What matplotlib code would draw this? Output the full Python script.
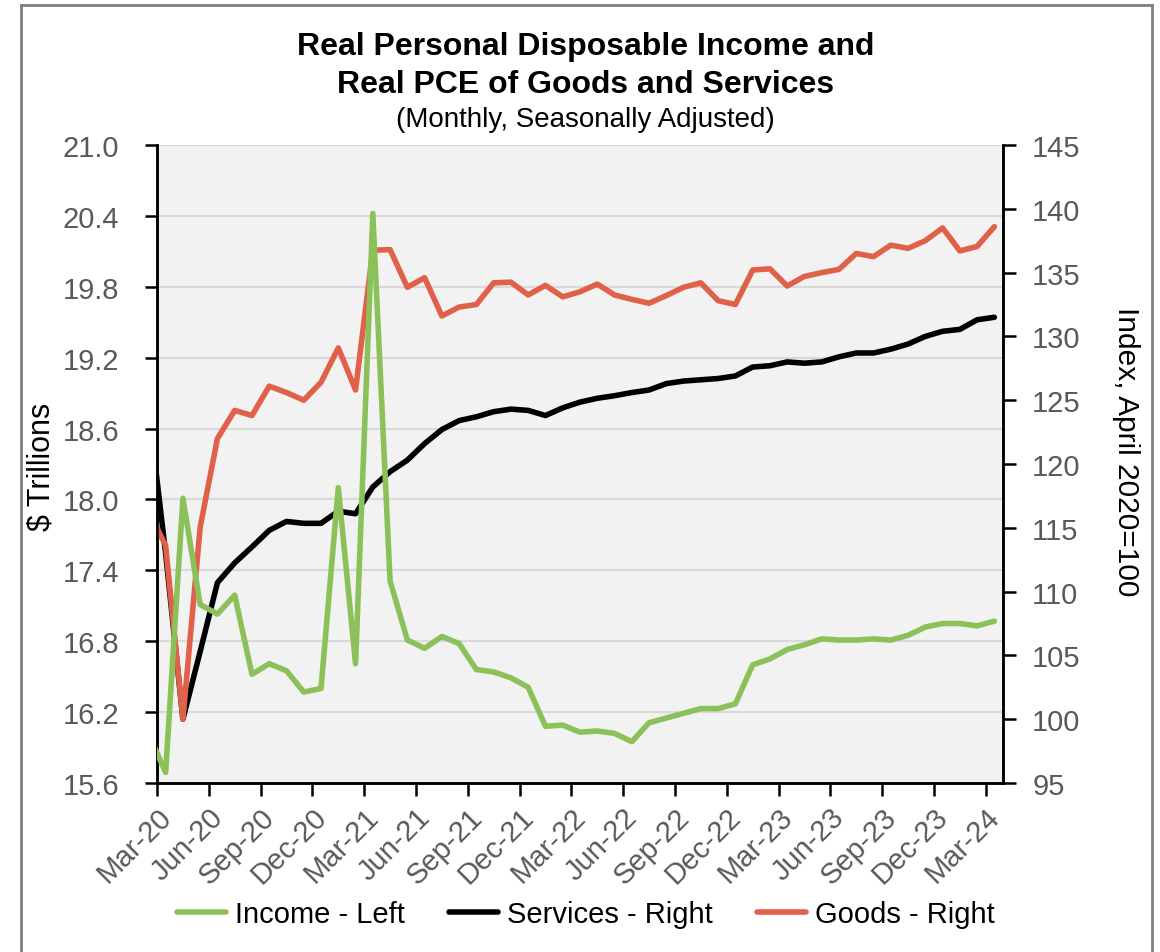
import matplotlib
matplotlib.use("Agg")
import matplotlib.pyplot as plt
import matplotlib.transforms as mtrans
import numpy as np
import pandas as pd

plt.rcParams['font.family'] = ['Liberation Sans', 'DejaVu Sans']

# monthly, Feb-20 .. Mar-24
months = pd.date_range('2020-02-01', '2024-03-01', freq='MS')

# real disposable income, $ trillions (left axis)
income = [16.02, 15.69, 18.01, 17.11, 17.03, 17.19, 16.52, 16.61, 16.55, 16.37, 16.40,
          18.10, 16.61, 20.42, 17.31, 16.81, 16.74, 16.84, 16.78, 16.56, 16.54, 16.49, 16.41,
          16.08, 16.09, 16.03, 16.04, 16.02, 15.95, 16.11, 16.15, 16.19, 16.23, 16.23, 16.27,
          16.60, 16.65, 16.73, 16.77, 16.82, 16.81, 16.81, 16.82, 16.81, 16.85, 16.92, 16.95,
          16.95, 16.93, 16.97]

# real PCE services, index Apr-20 = 100 (right axis)
services = [124.5, 113.0, 100.0, 105.3, 110.7, 112.25, 113.5, 114.8, 115.5, 115.35, 115.35,
            116.3, 116.1, 118.2, 119.4, 120.3, 121.6, 122.7, 123.4, 123.7, 124.1, 124.3, 124.2,
            123.8, 124.4, 124.85, 125.15, 125.35, 125.6, 125.8, 126.3, 126.5, 126.6, 126.7, 126.9,
            127.6, 127.7, 128.0, 127.9, 128.0, 128.4, 128.7, 128.7, 129.0, 129.4, 130.0, 130.4,
            130.55, 131.3, 131.5]

# real PCE goods, index Apr-20 = 100 (right axis)
goods = [116.4, 113.6, 100.0, 115.05, 122.0, 124.2, 123.8, 126.1, 125.6, 125.0, 126.4,
         129.1, 125.8, 136.75, 136.8, 133.85, 134.6, 131.6, 132.3, 132.5, 134.2, 134.25, 133.25,
         134.0, 133.1, 133.5, 134.1, 133.25, 132.9, 132.6, 133.2, 133.85, 134.2, 132.8, 132.5,
         135.2, 135.3, 133.95, 134.7, 135.0, 135.25, 136.5, 136.25, 137.15, 136.9, 137.5, 138.5,
         136.7, 137.05, 138.6]

green = '#8cc15a'
red = '#e0604a'
gray_txt = '#595959'

x = np.arange(len(months)) - 1  # Mar-20 at 0
tick_pos = np.arange(-0.5, 48, 3)
tick_lab = [d.strftime('%b-%y') for d in months[1::3]]
left_ticks = np.arange(15.6, 21.01, 0.6)

fig = plt.figure(figsize=(11.6, 9.53), dpi=100)
ax = fig.add_axes([157/1160, 1-784/953, (1003-157)/1160, (784-146)/953])
ax.set_facecolor('#f2f2f2')
ax2 = ax.twinx()
ax3 = ax.twinx()   # income layer on top, same scale as left axis

ax2.plot(x, services, color='black', lw=4, solid_capstyle='round', label='Services - Right')
ax2.plot(x, goods, color=red, lw=4, solid_capstyle='round', label='Goods - Right')
ax3.plot(x, income, color=green, lw=4, solid_capstyle='round', label='Income - Left')

ax.set_xlim(-0.5, 48.5)
ax.set_ylim(15.6, 21.0)
ax3.set_ylim(15.6, 21.0)
ax3.set_axis_off()
ax.set_yticks(left_ticks)
ax.set_yticklabels(['%.1f' % v for v in left_ticks])
ax.yaxis.grid(True, color='#d9d9d9', lw=1.5)
ax.set_axisbelow(True)
ax2.set_ylim(95, 145)
ax2.set_yticks(np.arange(95, 146, 5))

ax.set_xticks(tick_pos)
ax.set_xticklabels(tick_lab, rotation=45, ha='right', rotation_mode='anchor')
shift = mtrans.ScaledTranslation(10/100, 0, fig.dpi_scale_trans)
for lab in ax.get_xticklabels():
    lab.set_transform(lab.get_transform() + shift)

for a in (ax, ax2):
    a.spines['top'].set_visible(False)
    for s in ('left', 'right', 'bottom'):
        a.spines[s].set_color('black')
        a.spines[s].set_linewidth(1.8)
    a.tick_params(axis='both', labelsize=21, labelcolor=gray_txt, color='black',
                  width=1.8, length=9, direction='out')
ax.tick_params(axis='y', pad=18)
ax.tick_params(axis='x', pad=5)
ax2.tick_params(axis='y', pad=12)

fig.text(42/1160, 1-467/953, '$ Trillions', fontsize=22, rotation=90,
         ha='center', va='center')
fig.text(1126/1160, 1-452/953, 'Index, April 2020=100', fontsize=21.5, rotation=-90,
         ha='center', va='center')

fig.text(0.505, 1-47/953, 'Real Personal Disposable Income and', fontsize=23,
         fontweight='bold', ha='center', va='center')
fig.text(0.505, 1-85/953, 'Real PCE of Goods and Services', fontsize=23,
         fontweight='bold', ha='center', va='center')
fig.text(0.505, 1-120/953, '(Monthly, Seasonally Adjusted)', fontsize=20,
         ha='center', va='center')

h1, l1 = ax3.get_legend_handles_labels()
h2, l2 = ax2.get_legend_handles_labels()
fig.legend(h1 + h2, l1 + l2, loc='center', bbox_to_anchor=(0.505, 1-915/953), ncol=3,
           frameon=False, fontsize=21, handlelength=1.7, handletextpad=0.3,
           columnspacing=1.5)

# outer frame (open at the bottom)
bx0, bx1, by1 = 21/1160, 1152/1160, 1-6/953
for xs, ys in (([bx0, bx0], [-0.1, by1]), ([bx0, bx1], [by1, by1]), ([bx1, bx1], [by1, -0.1])):
    fig.add_artist(plt.Line2D(xs, ys, color='#7f7f7f', lw=2, transform=fig.transFigure))

fig.savefig('out.png', dpi=100)
